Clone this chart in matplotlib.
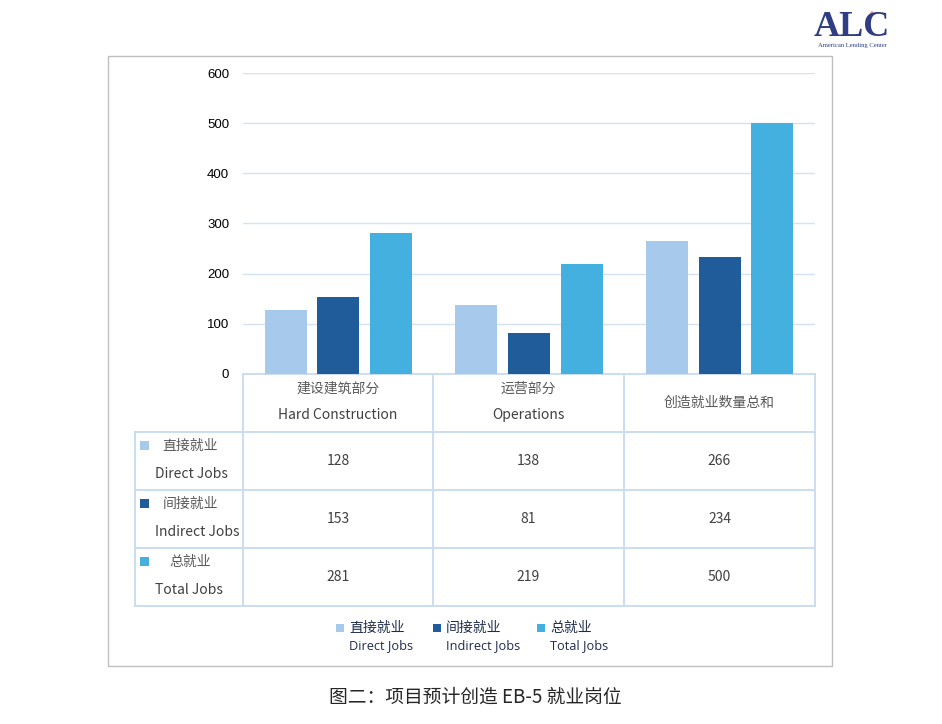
import matplotlib
matplotlib.use("Agg")
import matplotlib.pyplot as plt
from matplotlib.patches import Rectangle

plt.rcParams['font.family'] = ['Noto Sans CJK SC', 'DejaVu Sans']

# ---- data ----
categories_cn = ["建设建筑部分", "运营部分", "创造就业数量总和"]
categories_en = ["Hard Construction", "Operations", ""]
series_cn = ["直接就业", "间接就业", "总就业"]
series_en = ["Direct Jobs", "Indirect Jobs", "Total Jobs"]
direct_jobs = [128, 138, 266]
indirect_jobs = [153, 81, 234]
total_jobs = [281, 219, 500]
yticks = [0, 100, 200, 300, 400, 500, 600]
title = "图二：项目预计创造 EB-5 就业岗位"

series_values = [direct_jobs, indirect_jobs, total_jobs]
colors = ["#A7CAEC", "#1F5C99", "#44B0E0"]
line_col = "#C9DDF1"

W, H = 942, 724
fig = plt.figure(figsize=(W / 100, H / 100), dpi=100)

# overlay axes in pixel coordinates
ov = fig.add_axes([0, 0, 1, 1])
ov.set_xlim(0, W)
ov.set_ylim(H, 0)
ov.axis('off')

# outer frame
ov.add_patch(Rectangle((108, 56), 724, 610, fill=False, edgecolor="#BFBFBF", lw=1.0))

# main bar axes
x0, x1, ytop, ybot = 243, 815, 73, 374
ax = fig.add_axes([x0 / W, 1 - ybot / H, (x1 - x0) / W, (ybot - ytop) / H])
ax.patch.set_alpha(0)
ax.set_xlim(0, 3)
ax.set_ylim(0, 600)
width = 0.22
offsets = [-0.276, 0.0, 0.276]
for i, vals in enumerate(series_values):
    xs = [c + 0.5 + offsets[i] for c in range(len(vals))]
    ax.bar(xs, vals, width=width, color=colors[i], zorder=3)
ax.set_yticks(yticks)
ax.set_yticklabels([str(t) for t in yticks], family=['Liberation Sans', 'DejaVu Sans'],
                   fontsize=9.5, color="#000000")
ax.tick_params(axis='y', length=0, pad=10)
ax.set_xticks([])
ax.grid(axis='y', color="#D5E3F0", lw=1.0, zorder=0)
for s in ax.spines.values():
    s.set_visible(False)

# ---- table ----
col_x = [135, 243, 433, 624, 815]
row_y = [374, 432, 490, 548, 606]
lw = 1.4
# horizontal lines
ov.plot([243, 815], [row_y[0], row_y[0]], color=line_col, lw=lw)
for y in row_y[1:]:
    ov.plot([135, 815], [y, y], color=line_col, lw=lw)
# vertical lines
ov.plot([135, 135], [row_y[1], row_y[-1]], color=line_col, lw=lw)
for x in col_x[1:]:
    ov.plot([x, x], [row_y[0], row_y[-1]], color=line_col, lw=lw)

txt_col = "#595959"
val_col = "#404040"
# header row
for j in range(3):
    cx = (col_x[j + 1] + col_x[j + 2]) / 2
    if categories_en[j]:
        ov.text(cx, 389, categories_cn[j], ha='center', va='center', fontsize=10, color=txt_col)
        ov.text(cx, 415, categories_en[j], ha='center', va='center', fontsize=10, color=val_col)
    else:
        ov.text(cx, 403, categories_cn[j], ha='center', va='center', fontsize=10, color=txt_col)

# body rows
for i in range(3):
    ytop_r = row_y[i + 1]
    ov.add_patch(Rectangle((140, ytop_r + 9), 9, 9, color=colors[i], lw=0))
    ov.text(190, ytop_r + 14, series_cn[i], ha='center', va='center', fontsize=10, color=txt_col)
    ov.text(155, ytop_r + 42, series_en[i], ha='left', va='center', fontsize=10, color=val_col)
    for j in range(3):
        cx = (col_x[j + 1] + col_x[j + 2]) / 2
        ov.text(cx, ytop_r + 29, str(series_values[i][j]), ha='center', va='center',
                fontsize=10, color=val_col)

# ---- legend ----
leg_x = [336, 433, 537]
leg_col = "#1F2D4D"
for i in range(3):
    ov.add_patch(Rectangle((leg_x[i], 624), 8, 8, color=colors[i], lw=0))
    ov.text(leg_x[i] + 13, 628, series_cn[i], ha='left', va='center', fontsize=10, color=leg_col)
    ov.text(leg_x[i] + 13, 646, series_en[i], ha='left', va='center', fontsize=9.2,
            family=['Open Sans', 'DejaVu Sans'], color=leg_col)

# ---- title ----
ov.text(475, 697, title, ha='center', va='center', fontsize=13.5, color="#262626")

# ---- logo ----
ov.text(852, 27, "ALC", ha='center', va='center', fontsize=26, fontweight='bold',
        family=['Liberation Serif', 'DejaVu Serif'], color="#2E3D84")
ov.plot([868, 872], [18, 12], color="#E8A090", lw=1.5, solid_capstyle='round')
ov.text(852, 45, "American Lending Center", ha='center', va='center', fontsize=4.8,
        family=['Liberation Serif', 'DejaVu Serif'], color="#2E3D84")

fig.savefig("out.png", dpi=100)
